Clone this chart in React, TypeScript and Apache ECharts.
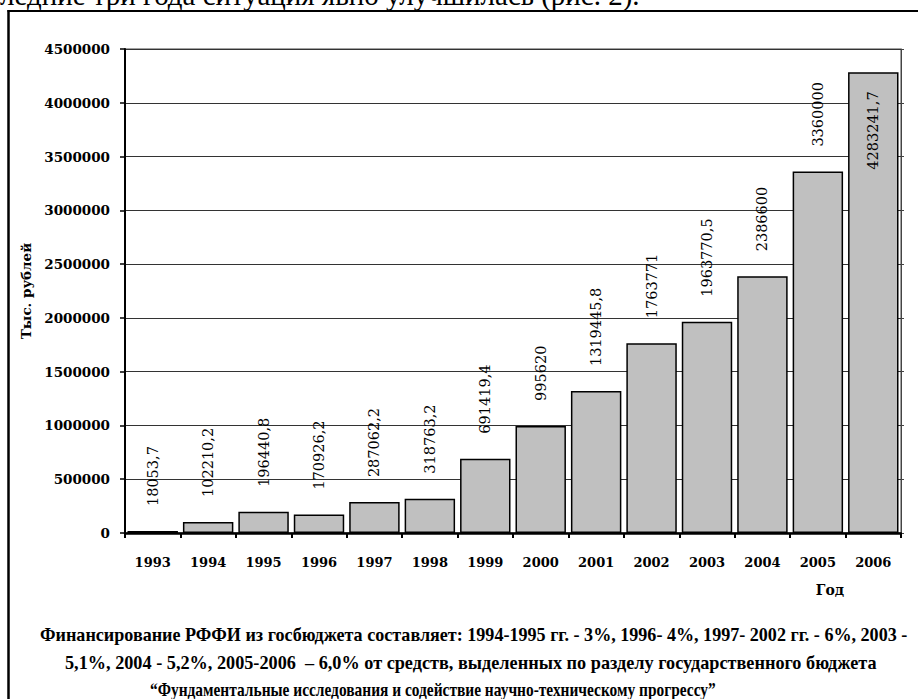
import React, { useEffect, useRef } from "react";
import * as echarts from "echarts";

// ---- data ----
const years = ["1993", "1994", "1995", "1996", "1997", "1998", "1999", "2000", "2001", "2002", "2003", "2004", "2005", "2006"];
const funding = [18053.7, 102210.2, 196440.8, 170926.2, 287062.2, 318763.2, 691419.4, 995620, 1319445.8, 1763771, 1963770.5, 2386600, 3360000, 4283241.7];
const Y_MIN = 0;
const Y_MAX = 4500000;
const Y_STEP = 500000;
const yAxisTitle = "Тыс. рублей";
const xAxisTitle = "Год";
const noteLines = [
  "Финансирование РФФИ из госбюджета составляет: 1994-1995 гг. - 3%, 1996- 4%, 1997- 2002 гг. - 6%, 2003 -",
  "5,1%, 2004 - 5,2%, 2005-2006  – 6,0% от средств, выделенных по разделу государственного бюджета",
  "“Фундаментальные исследования и содействие научно-техническому прогрессу”",
];
const topTextHidden = "пос";
const topTextVisible = "ледние три года ситуация явно улучшилась (рис. 2).";

// ---- style helpers ----
const NUM_FONT = "DejaVu Serif";
const TEXT_FONT = "Liberation Serif";
const LABEL_ROOM = 900000; // value room needed above a bar for its vertical label

function measure(text: string, font: string): number {
  const ctx = document.createElement("canvas").getContext("2d");
  if (!ctx) return text.length * 8;
  ctx.font = font;
  return ctx.measureText(text).width;
}

const fmt = (v: number) => String(v).replace(".", ",");

export default function App() {
  const ref = useRef<HTMLDivElement>(null);

  useEffect(() => {
    document.body.style.margin = "0";
    if (!ref.current) return;
    const chart = echarts.init(ref.current, null, { renderer: "svg" });

    // bottom note: left edges / target widths (px)
    const noteLayout = [
      { x: 40, w: 868, y: 635 },
      { x: 65, w: 812, y: 663 },
      { x: 150, w: 566, y: 690 },
    ];
    const noteFs = 18.5;
    const noteFont = `bold ${noteFs}px "${TEXT_FONT}"`;
    const noteGraphics = noteLines.map((line, i) => {
      const m = measure(line, noteFont);
      return {
        type: "text",
        x: noteLayout[i].x,
        y: noteLayout[i].y,
        scaleX: noteLayout[i].w / m,
        style: {
          text: line,
          fontFamily: TEXT_FONT,
          fontWeight: "bold",
          fontSize: noteFs,
          fill: "#000",
          align: "left",
          verticalAlign: "middle",
        },
      };
    });

    // top (cropped) paragraph line
    const baseFs = 20;
    const visW = measure(topTextVisible, `${baseFs}px "${TEXT_FONT}"`);
    const topFs = (baseFs * 640) / visW;
    const hiddenW = measure(topTextHidden, `${topFs}px "${TEXT_FONT}"`);

    const data = funding.map((v) => {
      const fitsAbove = v + LABEL_ROOM < Y_MAX;
      return {
        value: v,
        label: fitsAbove
          ? { position: "top", distance: 25, align: "left", verticalAlign: "middle" }
          : { position: "insideTop", distance: 19, align: "right", verticalAlign: "middle" },
      };
    });

    chart.setOption({
      animation: false,
      backgroundColor: "#fff",
      grid: {
        left: 125,
        right: 17,
        top: 49,
        bottom: 166,
        show: true,
        borderColor: "#444",
        borderWidth: 1,
      },
      xAxis: {
        type: "category",
        data: years,
        boundaryGap: true,
        axisLine: { lineStyle: { color: "#000", width: 2.5 } },
        axisTick: { show: true, alignWithLabel: false, interval: 0, length: 5, lineStyle: { color: "#000", width: 2 } },
        axisLabel: {
          interval: 0,
          margin: 23,
          color: "#000",
          fontFamily: NUM_FONT,
          fontWeight: "bold",
          fontSize: 13,
        },
        splitLine: { show: false },
      },
      yAxis: [
        {
          type: "value",
          min: Y_MIN,
          max: Y_MAX,
          interval: Y_STEP,
          name: yAxisTitle,
          nameLocation: "middle",
          nameRotate: 90,
          nameGap: 82,
          nameTextStyle: { color: "#000", fontFamily: NUM_FONT, fontWeight: "bold", fontSize: 13.5 },
          axisLine: { show: true, lineStyle: { color: "#000", width: 2 } },
          axisTick: { show: true, length: 5, lineStyle: { color: "#000", width: 1.5 } },
          axisLabel: {
            margin: 15,
            color: "#000",
            fontFamily: NUM_FONT,
            fontWeight: "bold",
            fontSize: 13.5,
            formatter: (v: number) => String(v),
          },
          splitLine: { show: true, lineStyle: { color: "#333", width: 1 } },
        },
        {
          type: "value",
          position: "right",
          min: Y_MIN,
          max: Y_MAX,
          interval: Y_STEP,
          axisLine: { show: true, lineStyle: { color: "#444", width: 1 } },
          axisTick: { show: true, length: 3, lineStyle: { color: "#444", width: 1 } },
          axisLabel: { show: false },
          splitLine: { show: false },
        },
      ],
      series: [
        {
          type: "bar",
          data,
          yAxisIndex: 0,
          barCategoryGap: "9%",
          itemStyle: { color: "#c0c0c0", borderColor: "#000", borderWidth: 1.5 },
          label: {
            show: true,
            rotate: 90,
            color: "#000",
            fontFamily: NUM_FONT,
            fontSize: 14.5,
            formatter: (p: any) => fmt(p.value),
          },
        },
      ],
      graphic: [
        {
          type: "text",
          x: -hiddenW,
          y: -5,
          style: {
            text: topTextHidden + topTextVisible,
            fontFamily: TEXT_FONT,
            fontSize: topFs,
            fill: "#000",
            align: "left",
            verticalAlign: "middle",
          },
        },
        { type: "line", shape: { x1: 7.5, y1: 11, x2: 940, y2: 11 }, style: { stroke: "#000", lineWidth: 2 } },
        { type: "line", shape: { x1: 8.5, y1: 10, x2: 8.5, y2: 720 }, style: { stroke: "#000", lineWidth: 2.5 } },
        {
          type: "text",
          x: 830,
          y: 590,
          style: {
            text: xAxisTitle,
            fontFamily: NUM_FONT,
            fontWeight: "bold",
            fontSize: 14,
            fill: "#000",
            align: "center",
            verticalAlign: "middle",
          },
        },
        ...noteGraphics,
      ],
    });

    return () => chart.dispose();
  }, []);

  return <div ref={ref} style={{ width: 918, height: 699, display: "block" }} />;
}
